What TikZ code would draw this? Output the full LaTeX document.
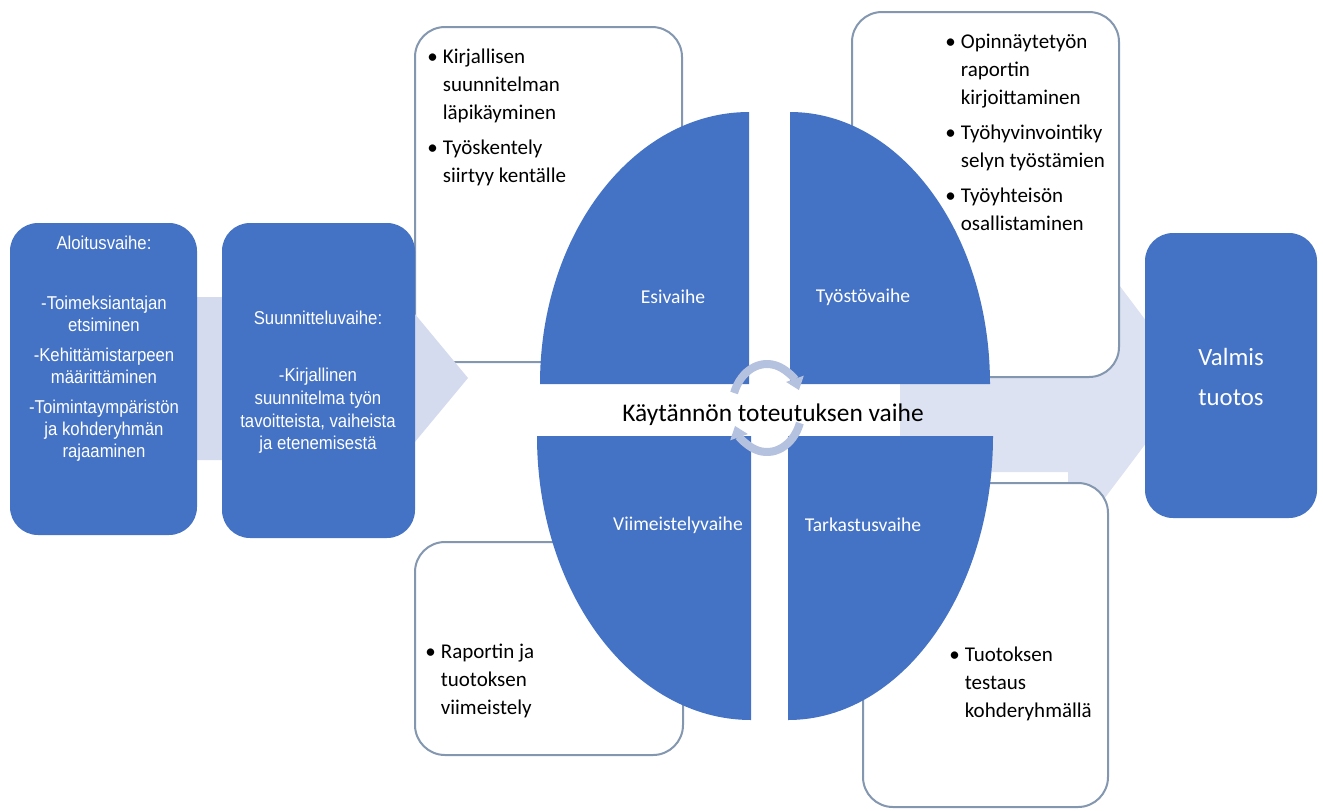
\documentclass[tikz,border=0pt]{standalone}
\usepackage{fontspec}
\setmainfont{Carlito}
\newfontfamily\arialfont[FakeStretch=0.9]{Liberation Sans}
\usetikzlibrary{arrows.meta}

\definecolor{boxblue}{HTML}{4472C4}
\definecolor{paleblue}{HTML}{D5DBEE}
\definecolor{palebluelight}{HTML}{DCE2F1}
\definecolor{noteline}{HTML}{8497B0}
\definecolor{cyclegray}{HTML}{B4C1DF}

\tikzset{
  stepbox/.style={fill=boxblue,draw=none,rounded corners=14pt},
  notebox/.style={fill=white,draw=noteline,line width=1pt,rounded corners=15pt},
  steptext/.style={text=white,align=center,inner sep=0pt},
  quadlabel/.style={text=white,font=\fontsize{9.8}{12}\selectfont,inner sep=0pt},
  notetext/.style={anchor=base west,inner sep=0pt,font=\fontsize{10.5}{14}\selectfont},
}

\begin{document}
\begin{tikzpicture}[x=0.5pt,y=-0.5pt]
\useasboundingbox (0,0) rectangle (1323,810);

\fill[palebluelight] (900,292) -- (1068,292) -- (1068,217) -- (1192,382) -- (1068,547) -- (1068,472) -- (900,472) -- cycle;

\draw[notebox] (415,27) rectangle (682,362);
\draw[notebox] (852,12) rectangle (1119,377);
\draw[notebox] (415,542) rectangle (683,755);
\draw[notebox] (863,483) rectangle (1108,807);

\fill[paleblue] (150,297) -- (385,297) -- (385,278) -- (468,378) -- (385,478) -- (385,460) -- (150,460) -- cycle;

\draw[stepbox] (10,223) rectangle (197,535);
\draw[stepbox] (222,223) rectangle (415,538);
\draw[stepbox] (1145,233) rectangle (1317,518);

\node[steptext,font=\arialfont\fontsize{9.3}{11}\selectfont] (alkuotsikko) at (104,243) {Aloitusvaihe:};
\node[steptext,font=\arialfont\fontsize{9.3}{11}\selectfont] (alkusisalto) at (104,379) {-Toimeksiantajan\\etsiminen\\[4pt]-Kehittämistarpeen\\määrittäminen\\[4pt]-Toimintaympäristön\\ja kohderyhmän\\rajaaminen};
\node[steptext,font=\arialfont\fontsize{9.3}{11.3}\selectfont] (suunotsikko) at (318,318) {Suunnitteluvaihe:};
\node[steptext,font=\arialfont\fontsize{9.3}{11.3}\selectfont] (suunsisalto) at (318,411) {-Kirjallinen\\suunnitelma työn\\tavoitteista, vaiheista\\ja etenemisestä};
\node[steptext,font=\fontsize{12.4}{20}\selectfont] (valmis) at (1231,377) {Valmis\\tuotos};

\fill[boxblue] (749,384) -- (540,384) arc[start angle=180,end angle=270,x radius=209,y radius=272] -- cycle;
\fill[boxblue] (790,384) -- (790,112) arc[start angle=270,end angle=360,x radius=200,y radius=272] -- cycle;
\fill[boxblue] (751,436) -- (751,720) arc[start angle=90,end angle=180,x radius=214,y radius=284] -- cycle;
\fill[boxblue] (788,436) -- (993,436) arc[start angle=0,end angle=90,x radius=205,y radius=284] -- cycle;

\coordinate (hub) at (767,408);
\draw[cyclegray,line width=4pt,-{Triangle[length=6pt,width=9pt]}] (hub) ++(200:35 and 44) arc[start angle=200,end angle=336,x radius=35,y radius=44];
\draw[cyclegray,line width=4pt,-{Triangle[length=6pt,width=9pt]}] (hub) ++(20:35 and 44) arc[start angle=20,end angle=156,x radius=35,y radius=44];

\node[font=\fontsize{12.7}{15}\selectfont,inner sep=0pt] (toteutus) at (773,415) {Käytännön toteutuksen vaihe};
\node[quadlabel] (esi) at (673,297) {Esivaihe};
\node[quadlabel] (tyosto) at (863,297) {Työstövaihe};
\node[quadlabel] (viim) at (678,525) {Viimeistelyvaihe};
\node[quadlabel] (tark) at (863,525) {Tarkastusvaihe};

\node[notetext] (esinote) at (427,63) {\begin{tabular}[t]{@{}l@{\hspace{2.5pt}}l@{}}
\textbullet & Kirjallisen\\ & suunnitelman\\ & läpikäyminen\\[3.5pt]
\textbullet & Työskentely\\ & siirtyy kentälle
\end{tabular}};
\node[notetext] (tyonote) at (945,48) {\begin{tabular}[t]{@{}l@{\hspace{2.5pt}}l@{}}
\textbullet & Opinnäytetyön\\ & raportin\\ & kirjoittaminen\\[3.5pt]
\textbullet & Työhyvinvointiky\\ & selyn työstämien\\[3.5pt]
\textbullet & Työyhteisön\\ & osallistaminen
\end{tabular}};
\node[notetext] (viimnote) at (425,658) {\begin{tabular}[t]{@{}l@{\hspace{2.5pt}}l@{}}
\textbullet & Raportin ja\\ & tuotoksen\\ & viimeistely
\end{tabular}};
\node[notetext] (tarknote) at (949,661) {\begin{tabular}[t]{@{}l@{\hspace{2.5pt}}l@{}}
\textbullet & Tuotoksen\\ & testaus\\ & kohderyhmällä
\end{tabular}};

\end{tikzpicture}
\end{document}
